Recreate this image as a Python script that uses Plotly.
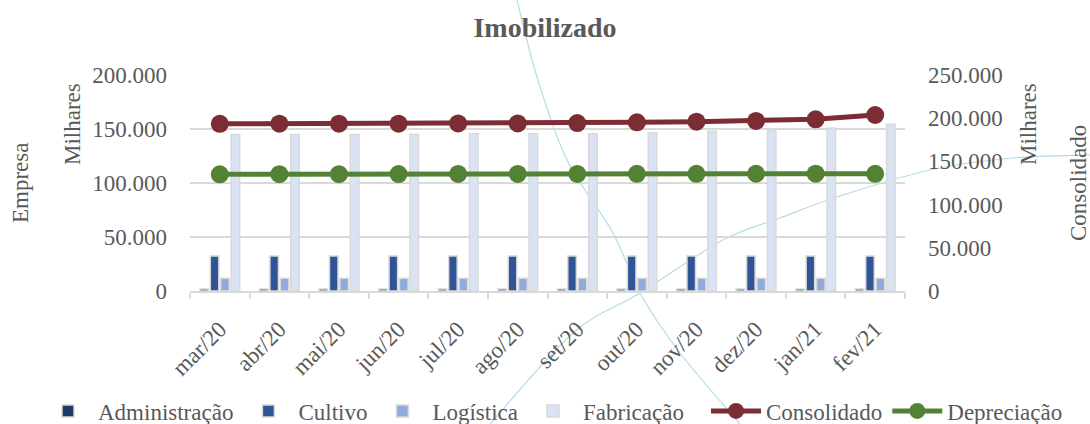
import plotly.graph_objects as go

# ---- data (values in R$ thousands) ----
categories = ["mar/20", "abr/20", "mai/20", "jun/20", "jul/20", "ago/20",
              "set/20", "out/20", "nov/20", "dez/20", "jan/21", "fev/21"]
administracao = [1900, 1900, 1900, 1900, 1900, 1900, 1900, 1900, 1900, 1900, 1900, 1900]
cultivo = [32500, 32500, 32500, 32500, 32500, 32500, 32500, 32500, 32500, 32500, 32500, 32500]
logistica = [11800, 11800, 11800, 11800, 11800, 11800, 11800, 11800, 11800, 11800, 11800, 11800]
fabricacao = [144800, 145000, 145000, 145200, 145500, 145600, 145600, 146600, 147900, 148100, 150600, 154400]
consolidado = [193500, 193600, 193600, 193700, 193900, 194000, 194300, 195200, 196000, 196800, 198700, 203700]
depreciacao = [135000, 135200, 135200, 135300, 135500, 135500, 135500, 135600, 135600, 135700, 135800, 135600]

left_ticks = [0, 50000, 100000, 150000, 200000]
right_ticks = [0, 50000, 100000, 150000, 200000, 250000]

TXT = "#595959"
GRID = "#d9d9d9"
FONT = "Liberation Serif"

fig = go.Figure()

bar_specs = [("Administração", administracao, "#1f3864"),
             ("Cultivo", cultivo, "#2f5597"),
             ("Logística", logistica, "#8faadc"),
             ("Fabricação", fabricacao, "#dae3f3")]
for name, vals, col in bar_specs:
    fig.add_trace(go.Bar(x=categories, y=vals, name=name, legend="legend",
                         marker=dict(color=col, line=dict(color=GRID, width=1.5))))

for name, vals, col in [("Consolidado", consolidado, "#7b2d33"),
                        ("Depreciação", depreciacao, "#548235")]:
    fig.add_trace(go.Scatter(x=categories, y=vals, name=name, yaxis="y2",
                             legend="legend2", mode="lines+markers",
                             line=dict(color=col, width=5),
                             marker=dict(color=col, size=18)))

# ---- plot-area geometry (pixels) ----
W, H = 1090, 424
L, R, T, B = 190, 905, 75, 291


def to_paper(px, py):
    return ((px - L) / (R - L), (B - py) / (B - T))


def smooth_path(pts):
    P = [to_paper(*p) for p in pts]
    d = "M %.4f,%.4f" % P[0]
    for i in range(len(P) - 1):
        p0 = P[i - 1] if i > 0 else P[i]
        p1, p2 = P[i], P[i + 1]
        p3 = P[i + 2] if i + 2 < len(P) else P[i + 1]
        c1 = (p1[0] + (p2[0] - p0[0]) / 6, p1[1] + (p2[1] - p0[1]) / 6)
        c2 = (p2[0] - (p3[0] - p1[0]) / 6, p2[1] - (p3[1] - p1[1]) / 6)
        d += " C %.4f,%.4f %.4f,%.4f %.4f,%.4f" % (c1[0], c1[1], c2[0], c2[1], p2[0], p2[1])
    return d


deco_a = [(517, 0), (537, 77), (567, 160), (613, 233), (640, 293), (680, 353), (740, 424)]
deco_b = [(490, 424), (573, 333), (640, 293), (723, 240), (780, 218), (837, 197),
          (930, 170), (1013, 158), (1090, 155)]
shapes = [dict(type="path", xref="paper", yref="paper", path=smooth_path(p),
               line=dict(color="#b7dce6", width=1.2), layer="below")
          for p in (deco_a, deco_b)]


def ann(text, px, py, size=23, angle=-90):
    x, y = to_paper(px, py)
    return dict(text=text, xref="paper", yref="paper", x=x, y=y,
                showarrow=False, textangle=angle,
                font=dict(family=FONT, size=size, color=TXT),
                xanchor="center", yanchor="middle")


annotations = [ann("Empresa", 20, 183), ann("Milhares", 72, 124),
               ann("Milhares", 1028, 124), ann("Consolidado", 1078, 183)]

l1x, ly = to_paper(38, 411)
l2x, _ = to_paper(1068, 411)

fig.update_layout(
    width=W, height=H,
    margin=dict(l=L, r=W - R, t=T, b=H - B, autoexpand=False),
    paper_bgcolor="white", plot_bgcolor="white",
    separators=",.",
    barmode="group", bargap=0.3, bargroupgap=0.18,
    title=dict(text="<b>Imobilizado</b>", x=0.5, xref="container", xanchor="center",
               y=1 - 27 / H, yref="container", yanchor="middle",
               font=dict(family=FONT, size=28, color=TXT)),
    font=dict(family=FONT, size=22, color=TXT),
    xaxis=dict(type="category", range=[-0.5, 11.5], tickangle=-45, showgrid=False,
               automargin=False, showline=True, linecolor=GRID, linewidth=1.5,
               ticks="outside", tickson="boundaries", ticklen=6,
               tickcolor=GRID, tickwidth=1.5, ticklabelstandoff=14,
               tickfont=dict(family=FONT, size=23, color=TXT)),
    yaxis=dict(range=[0, 200000], tickvals=left_ticks, tickformat=",.0f",
               showgrid=True, gridcolor=GRID, gridwidth=1.5, zeroline=False,
               automargin=False, ticklabelstandoff=22,
               tickfont=dict(family=FONT, size=23, color=TXT)),
    yaxis2=dict(range=[0, 250000], tickvals=right_ticks, tickformat=",.0f",
                overlaying="y", side="right", showgrid=False, zeroline=False,
                automargin=False, ticklabelstandoff=22,
                tickfont=dict(family=FONT, size=23, color=TXT)),
    legend=dict(orientation="h", xref="paper", x=l1x, xanchor="left",
                yref="paper", y=ly, yanchor="middle",
                font=dict(family=FONT, size=23, color=TXT),
                itemwidth=50, traceorder="normal", bgcolor="rgba(0,0,0,0)"),
    legend2=dict(orientation="h", xref="paper", x=l2x, xanchor="right",
                 yref="paper", y=ly, yanchor="middle",
                 font=dict(family=FONT, size=23, color=TXT),
                 itemwidth=50, traceorder="normal", bgcolor="rgba(0,0,0,0)"),
    shapes=shapes,
    annotations=annotations,
)

fig.write_html("out.html", config={"displayModeBar": False},
               post_script="document.body.style.margin='0';")
